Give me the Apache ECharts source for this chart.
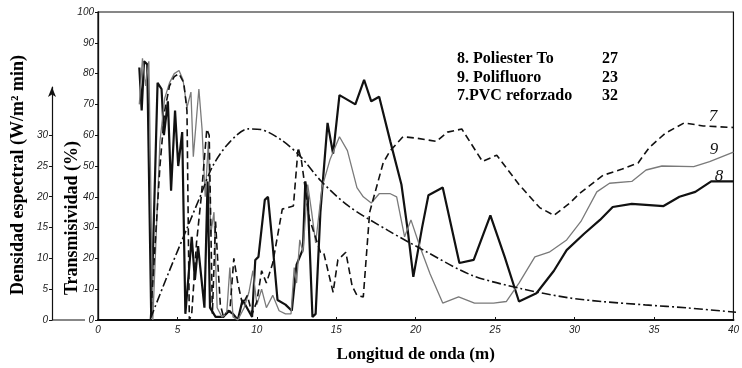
<!DOCTYPE html>
<html>
<head>
<meta charset="utf-8">
<script src="https://cdn.jsdelivr.net/npm/echarts@6/dist/echarts.min.js"></script>
<style>
html,body{margin:0;padding:0;background:#fff;}
#c{width:742px;height:368px;}
</style>
</head>
<body>
<div id="c"></div>
<script>
// ---- data (x = longitud de onda, y = transmisividad %) ----
const poliester = [[2.6,82],[2.75,68],[2.9,84],[3.1,83],[3.35,1],[3.75,77],[4.0,75],[4.15,60],[4.4,71],[4.6,42],[4.85,68],[5.05,50],[5.3,61],[5.5,2],[5.9,27],[6.1,13],[6.3,24],[6.5,14],[6.7,4],[6.9,45],[7.05,4],[7.4,1],[7.9,1],[8.2,3],[8.5,2],[8.8,0],[9.1,6.5],[9.7,1],[9.9,19.5],[10.1,20.5],[10.5,39],[10.7,40],[11.0,24],[11.3,6.5],[11.8,5],[12.2,3],[12.5,18],[12.9,23],[13.05,45],[13.2,40],[13.5,1],[13.7,2],[14.0,35],[14.45,64],[14.8,54],[15.2,73],[16.2,70],[16.75,78],[17.2,71],[17.7,72.5],[18.4,58],[19.1,44],[19.5,29],[19.85,14],[20.4,30],[20.8,40.5],[21.7,43],[22.75,18.5],[23.65,19.5],[24.7,34],[25.6,20.5],[26.5,6],[27.6,8.7],[28.7,16],[29.5,22.7],[30.6,28],[31.6,32.5],[32.4,36.7],[33.6,37.7],[35.6,37],[36.6,40],[37.6,41.6],[38.6,45],[40,45]];
const polifluoro = [[2.6,70],[2.8,85],[3.0,76],[3.2,84],[3.45,0],[3.9,58],[4.2,72],[4.5,77],[4.8,80],[5.1,81],[5.35,78],[5.6,69],[5.85,74],[6.0,53],[6.35,75],[6.55,62],[6.75,40],[6.95,58],[7.1,28],[7.3,35],[7.5,4],[7.8,1],[8.1,2],[8.3,17],[8.5,1],[8.8,0],[9.2,4],[9.5,9],[9.75,16],[10.0,5],[10.3,10],[10.6,4],[11.0,8],[11.4,3],[11.8,2],[12.15,2],[12.35,17],[12.5,12],[12.7,26],[12.9,22],[13.2,44],[13.45,35],[13.7,25],[14.1,43],[14.6,52],[15.2,59.5],[15.7,55],[16.3,43],[16.7,40],[17.2,38],[17.7,41],[18.4,41],[18.8,40],[19.3,27],[19.7,32.5],[20.25,24],[20.9,15],[21.7,5.5],[22.7,7.5],[23.7,5.5],[24.9,5.5],[25.7,6],[26.5,12],[27.5,20.5],[28.4,22],[29.5,26],[30.4,32],[31.4,41.6],[32.2,44.4],[33.6,45],[34.5,48.7],[35.5,50],[37.5,49.8],[38.5,51.4],[40,54.5]];
const pvc = [[3.3,0],[3.6,25],[3.9,50],[4.2,68],[4.5,76],[4.8,79],[5.1,80],[5.4,77],[5.6,68],[5.75,0],[5.9,2],[6.2,25],[6.5,40],[6.85,62],[7.0,60],[7.2,2],[7.4,32],[7.55,18],[7.7,5],[7.9,1],[8.3,3],[8.55,20],[8.8,12],[9.1,5],[9.4,8],[9.7,2],[10.0,6],[10.3,16],[10.6,12],[11.0,18.5],[11.6,36],[12.3,37],[12.6,56],[12.8,52],[13.3,33],[14.0,22],[14.2,22],[14.8,9],[15.1,19.5],[15.6,22],[16.0,11],[16.3,8],[16.7,7.5],[17.1,35],[17.95,51],[18.4,55],[19.2,59.5],[20.1,59],[21.3,58],[22,61],[22.9,62],[24.2,51.5],[25.1,53.5],[26.5,44],[27.8,36.5],[28.7,34],[29.7,38],[30.3,41],[31.8,47],[33,49],[34,51],[34.7,56],[35.7,60.6],[36.9,64],[38.1,63],[40,62.5]];
// densidad espectral (W/m2 min)
const spectral = [[3.3,0.3],[4.4,7.5],[5.6,15],[6.4,20],[7.2,25],[8.2,28.7],[9.4,31],[10.2,30.9],[11.5,29.2],[12.7,26.5],[14,22.5],[15.7,18.5],[18.2,14.5],[20.5,11.2],[23.4,7.3],[26.5,5.1],[29.5,3.6],[31.6,3],[34.3,2.45],[37,1.95],[40,1.25]];
const legendNames = ['8. Poliester To','9. Polifluoro','7.PVC reforzado'];
const legendValues = [27,23,32];
const curveTags = ['8','9','7'];
const densTicks = [0,5,10,15,20,25,30];

const chart = echarts.init(document.getElementById('c'), null, {renderer:'canvas'});
const serif = "'Liberation Serif','Times New Roman',serif";
const lblFont = {fontFamily:"'Liberation Sans',sans-serif", fontStyle:'italic', fontSize:10, color:'#222'};
const valMap = {};
legendNames.forEach((n,i)=>valMap[n]=legendValues[i]);

chart.setOption({
  animation:false,
  backgroundColor:'#fff',
  grid:[
    {left:98,right:6,top:12,bottom:48,show:true,borderColor:'#111',borderWidth:1.2,backgroundColor:'transparent'},
    {left:98,right:6,top:87,bottom:48,show:false}
  ],
  legend:{
    data:legendNames, orient:'vertical', left:447, top:45, icon:'none', itemWidth:0, itemHeight:10, itemGap:0.5,
    selectedMode:false,
    formatter:n=>'{n|'+n+'}{v|'+valMap[n]+'}',
    textStyle:{fontFamily:serif,fontWeight:'bold',fontSize:16,color:'#000',lineHeight:18,
      rich:{n:{width:145,fontFamily:serif,fontWeight:'bold',fontSize:16,color:'#000'},v:{fontFamily:serif,fontWeight:'bold',fontSize:16,color:'#000'}}}
  },
  xAxis:[
    {type:'value',gridIndex:0,min:0,max:40,interval:5,
     name:'Longitud de onda (m)',nameLocation:'middle',nameGap:26,
     nameTextStyle:{fontFamily:serif,fontWeight:'bold',fontSize:17,color:'#000'},
     axisLine:{show:true,onZero:false,lineStyle:{color:'#111',width:2}},
     axisTick:{show:true,inside:true,length:3,lineStyle:{color:'#111'}},
     axisLabel:Object.assign({margin:5},lblFont),
     splitLine:{show:false}},
    {type:'value',gridIndex:1,min:0,max:40,show:false}
  ],
  yAxis:[
    {type:'value',gridIndex:0,min:0,max:100,interval:10,
     axisLine:{show:true,onZero:false,lineStyle:{color:'#111',width:1.3}},
     axisTick:{show:true,length:3,lineStyle:{color:'#111'}},
     axisLabel:Object.assign({margin:4},lblFont),
     splitLine:{show:false}},
    {type:'value',gridIndex:1,min:0,max:37.8,interval:5,position:'left',offset:46,
     axisLine:{show:true,onZero:false,symbol:['none','arrow'],symbolSize:[6,10],lineStyle:{color:'#111',width:1.2}},
     axisTick:{show:true,length:3,customValues:densTicks,lineStyle:{color:'#111'}},
     axisLabel:Object.assign({margin:4,customValues:densTicks,formatter:v=>v<=30?String(v):''},lblFont),
     splitLine:{show:false}}
  ],
  series:[
    {name:legendNames[0],type:'line',xAxisIndex:0,yAxisIndex:0,data:poliester,symbol:'none',
     lineStyle:{color:'#111',width:2.2},itemStyle:{color:'#111'}},
    {name:legendNames[1],type:'line',xAxisIndex:0,yAxisIndex:0,data:polifluoro,symbol:'none',
     lineStyle:{color:'#7a7a7a',width:1.3},itemStyle:{color:'#7a7a7a'}},
    {name:legendNames[2],type:'line',xAxisIndex:0,yAxisIndex:0,data:pvc,symbol:'none',
     lineStyle:{color:'#111',width:1.6,type:[7,4]},itemStyle:{color:'#111'}},
    {name:'Densidad espectral',type:'line',xAxisIndex:1,yAxisIndex:1,data:spectral,symbol:'none',smooth:0.3,
     lineStyle:{color:'#111',width:1.6,type:[9,3,2,3]},itemStyle:{color:'#111'}}
  ],
  graphic:[
    {type:'line',shape:{x1:52,y1:320,x2:85,y2:320},style:{stroke:'#111',lineWidth:1.2}},
    {type:'text',x:18,y:175,rotation:Math.PI/2,style:{text:'Densidad espectral (W/m² min)',font:"bold 18px "+serif,fill:'#000',textAlign:'center',textVerticalAlign:'middle'}},
    {type:'text',x:72,y:218,rotation:Math.PI/2,style:{text:'Transmisividad (%)',font:"bold 18px "+serif,fill:'#000',textAlign:'center',textVerticalAlign:'middle'}},
    {type:'text',x:713,y:117,style:{text:curveTags[2],font:"italic 17px "+serif,fill:'#111',textAlign:'center',textVerticalAlign:'middle'}},
    {type:'text',x:714,y:150,style:{text:curveTags[1],font:"italic 17px "+serif,fill:'#111',textAlign:'center',textVerticalAlign:'middle'}},
    {type:'text',x:719,y:177,style:{text:curveTags[0],font:"italic 17px "+serif,fill:'#111',textAlign:'center',textVerticalAlign:'middle'}}
  ]
});
</script>
</body>
</html>
